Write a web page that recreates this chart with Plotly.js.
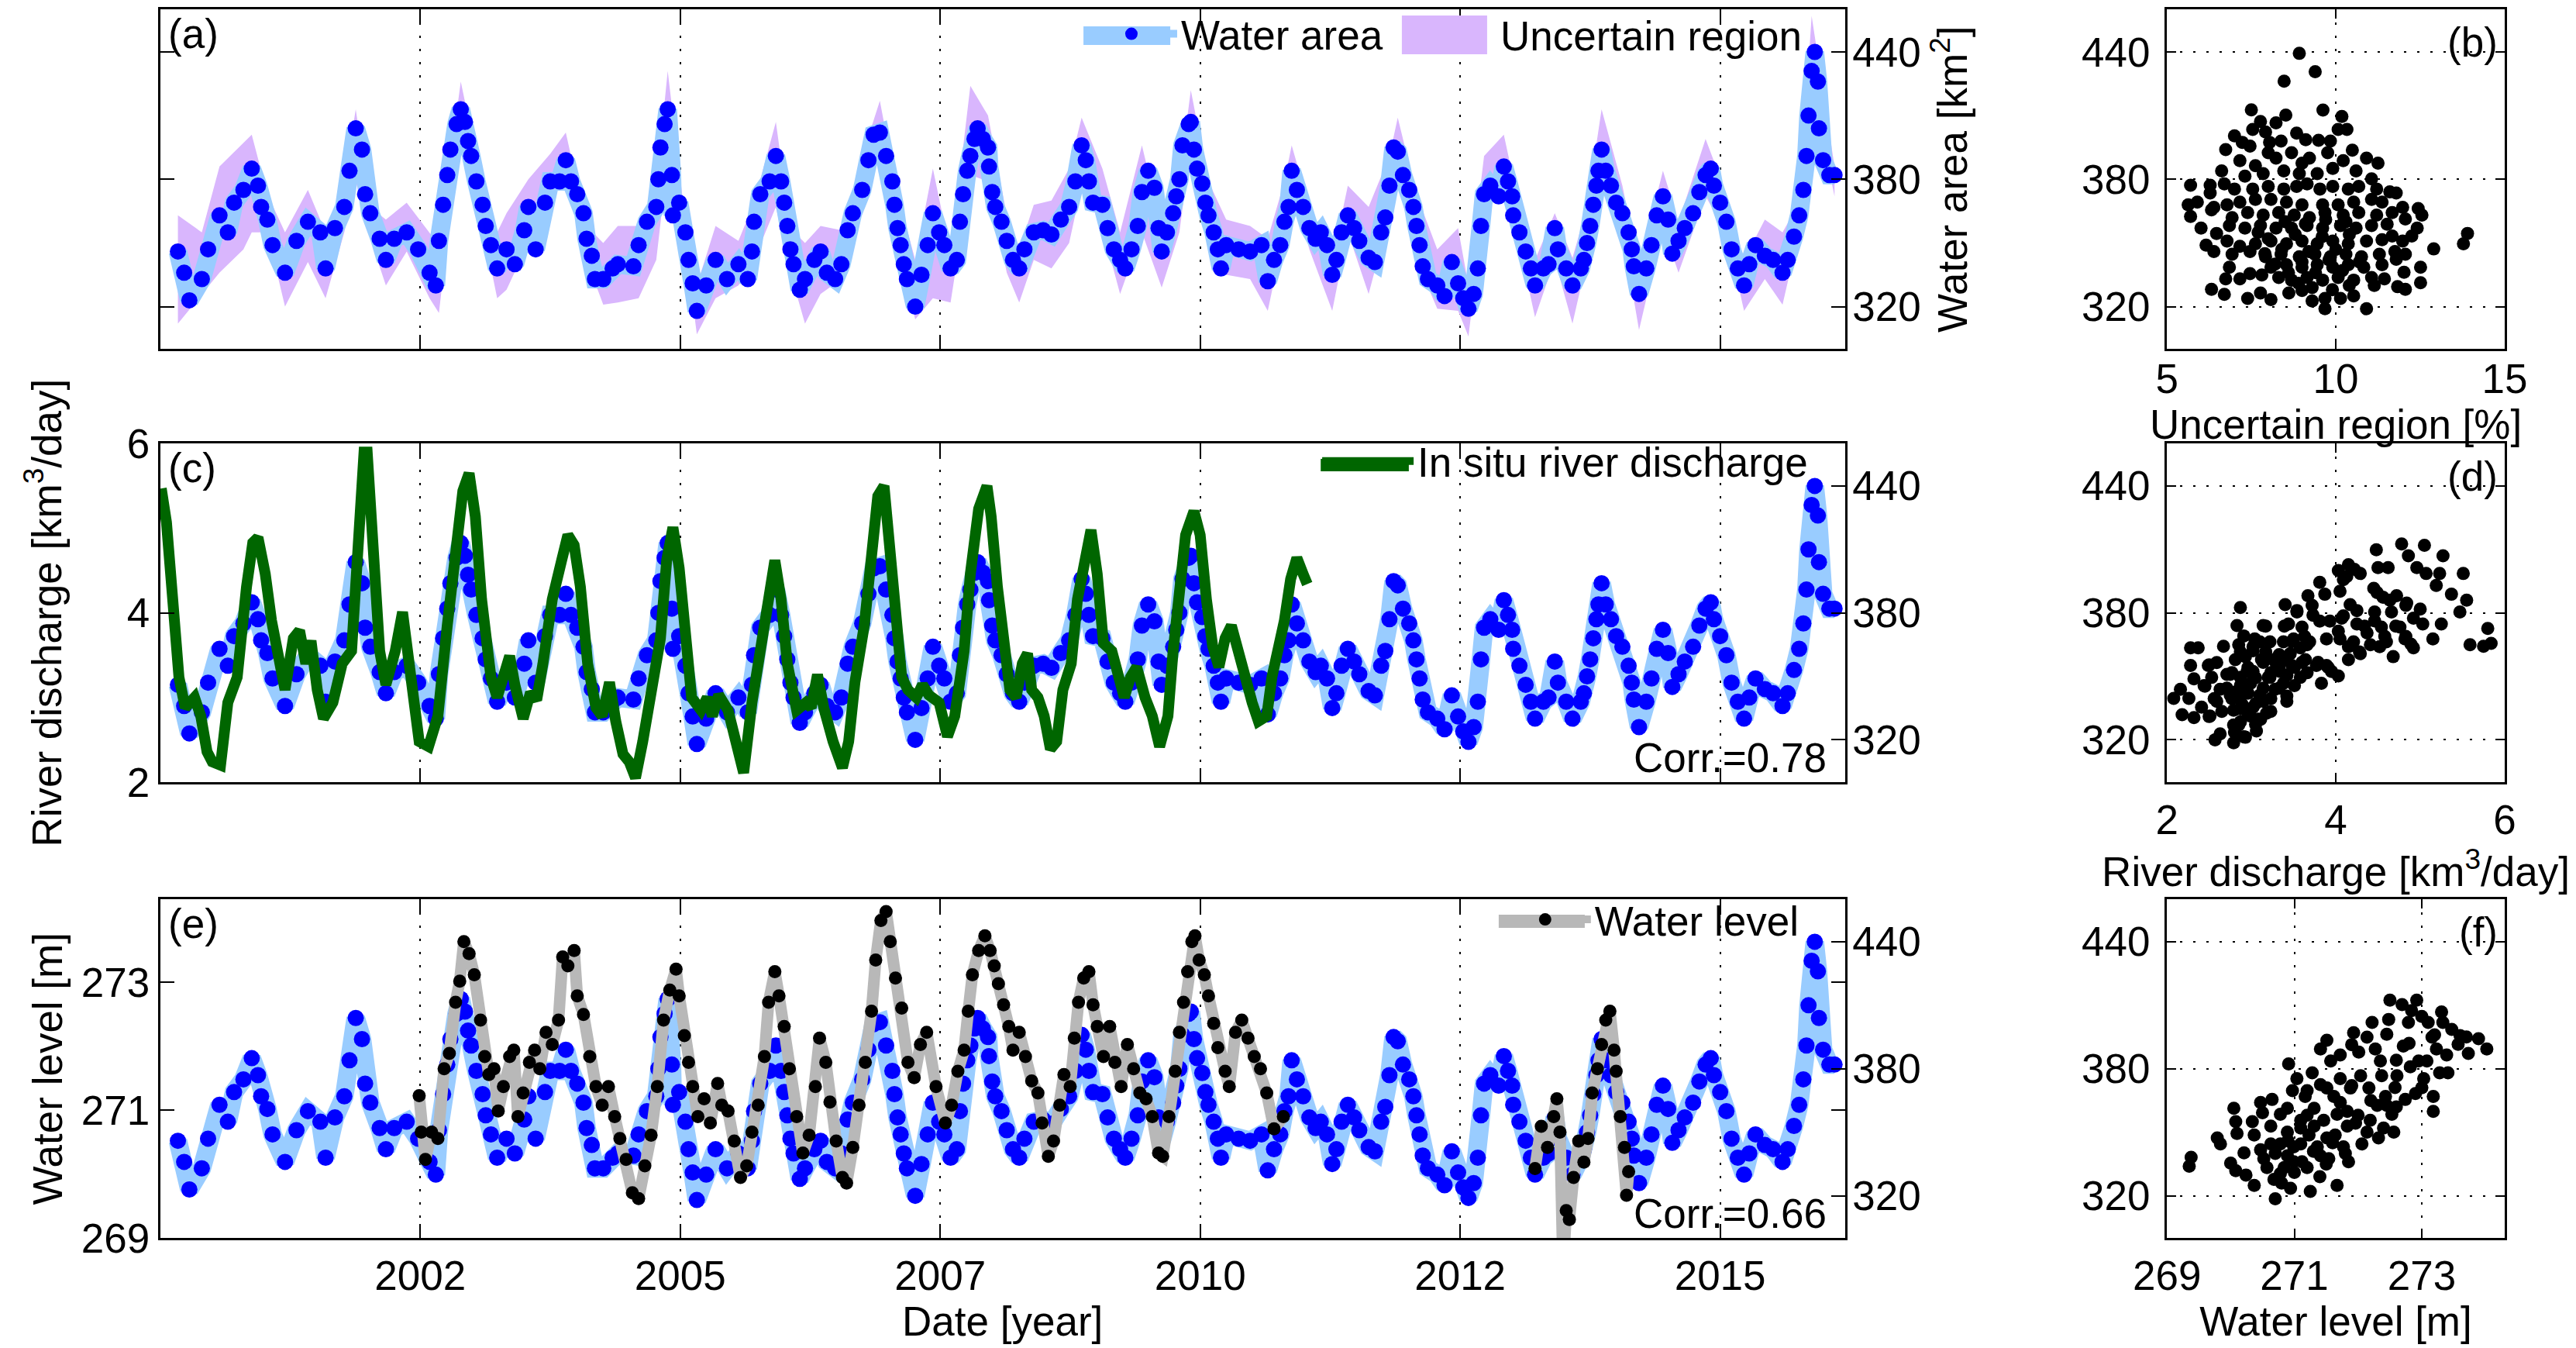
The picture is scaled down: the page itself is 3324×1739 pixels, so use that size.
<!DOCTYPE html>
<html>
<head>
<meta charset="utf-8">
<script src="https://cdn.plot.ly/plotly-3.0.1.min.js"></script>
<style>
  html, body { margin: 0; padding: 0; background: #fff; }
  #chart { width: 3324px; height: 1739px; }
</style>
</head>
<body>
<div id="chart"></div>
<script>
// Data

// water area time series [km2]
const areaYear = [
  2000.17, 2000.23, 2000.28, 2000.40, 2000.46, 2000.57, 2000.65, 2000.71, 2000.80, 2000.88,
  2000.94, 2000.97, 2001.03, 2001.08, 2001.20, 2001.31, 2001.42, 2001.54, 2001.59, 2001.68,
  2001.77, 2001.82, 2001.88, 2001.94, 2001.97, 2002.02, 2002.11, 2002.17, 2002.25, 2002.37,
  2002.48, 2002.59, 2002.65, 2002.68, 2002.72, 2002.76, 2002.79, 2002.85, 2002.89, 2002.93,
  2002.96, 2002.99, 2003.04, 2003.10, 2003.13, 2003.18, 2003.24, 2003.33, 2003.41, 2003.50,
  2003.54, 2003.61, 2003.70, 2003.75, 2003.84, 2003.90, 2003.95, 2004.01, 2004.07, 2004.10,
  2004.15, 2004.18, 2004.26, 2004.35, 2004.40, 2004.55, 2004.60, 2004.68, 2004.77, 2004.79,
  2004.81, 2004.85, 2004.88, 2004.92, 2004.93, 2004.99, 2005.05, 2005.08, 2005.12, 2005.16,
  2005.25, 2005.34, 2005.45, 2005.56, 2005.65, 2005.69, 2005.71, 2005.77, 2005.86, 2005.92,
  2005.97, 2006.00, 2006.03, 2006.06, 2006.09, 2006.15, 2006.20, 2006.29, 2006.35, 2006.41,
  2006.49, 2006.55, 2006.61, 2006.66, 2006.75, 2006.81, 2006.86, 2006.92, 2006.98, 2007.04,
  2007.06, 2007.09, 2007.12, 2007.15, 2007.18, 2007.26, 2007.32, 2007.38, 2007.43, 2007.49,
  2007.54, 2007.60, 2007.66, 2007.69, 2007.72, 2007.76, 2007.79, 2007.83, 2007.86, 2007.91,
  2007.96, 2007.97, 2008.00, 2008.03, 2008.09, 2008.14, 2008.20, 2008.26, 2008.31, 2008.40,
  2008.49, 2008.57, 2008.66, 2008.74, 2008.80, 2008.86, 2008.90, 2008.93, 2008.97, 2009.06,
  2009.11, 2009.17, 2009.23, 2009.28, 2009.34, 2009.40, 2009.44, 2009.50, 2009.56, 2009.60,
  2009.63, 2009.68, 2009.74, 2009.77, 2009.80, 2009.83, 2009.89, 2009.91, 2009.94, 2009.97,
  2010.02, 2010.05, 2010.08, 2010.13, 2010.17, 2010.20, 2010.25, 2010.37, 2010.48, 2010.59,
  2010.65, 2010.71, 2010.77, 2010.81, 2010.85, 2010.88, 2010.93, 2010.99, 2011.05, 2011.11,
  2011.16, 2011.22, 2011.27, 2011.31, 2011.36, 2011.42, 2011.48, 2011.53, 2011.62, 2011.68,
  2011.74, 2011.78, 2011.82, 2011.86, 2011.90, 2011.95, 2012.01, 2012.05, 2012.08, 2012.11,
  2012.14, 2012.19, 2012.28, 2012.35, 2012.42, 2012.48, 2012.53, 2012.58, 2012.63, 2012.67,
  2012.70, 2012.73, 2012.79, 2012.87, 2012.92, 2012.96, 2013.00, 2013.01, 2013.07, 2013.13,
  2013.18, 2013.22, 2013.30, 2013.35, 2013.41, 2013.44, 2013.52, 2013.58, 2013.66, 2013.69,
  2013.72, 2013.75, 2013.78, 2013.81, 2013.83, 2013.86, 2013.90, 2013.95, 2014.00, 2014.06,
  2014.12, 2014.15, 2014.17, 2014.22, 2014.29, 2014.34, 2014.39, 2014.45, 2014.50, 2014.54,
  2014.60, 2014.66, 2014.74, 2014.80, 2014.86, 2014.91, 2014.94, 2015.00, 2015.06, 2015.11,
  2015.17, 2015.23, 2015.28, 2015.34, 2015.43, 2015.51, 2015.60, 2015.65, 2015.71, 2015.76,
  2015.80, 2015.83, 2015.85, 2015.88, 2015.91, 2015.94, 2015.95, 2015.99, 2016.05, 2016.10,
];
const areaKm2 = [
  346, 336, 323, 333, 347, 363, 355, 369, 375, 385,
  377, 367, 361, 349, 336, 351, 360, 355, 338, 357,
  367, 384, 404, 394, 373, 364, 352, 342, 352, 355,
  347, 336, 330, 351, 368, 382, 394, 406, 413, 407,
  398, 391, 379, 368, 358, 349, 338, 347, 340, 356,
  367, 347, 369, 379, 379, 389, 379, 373, 364, 352,
  344, 333, 333, 338, 340, 339, 349, 360, 367, 380,
  395, 406, 413, 382, 363, 369, 355, 342, 331, 318,
  330, 342, 333, 340, 333, 346, 360, 373, 379, 391,
  379, 369, 358, 347, 340, 328, 333, 342, 346, 336,
  333, 340, 356, 364, 375, 389, 401, 402, 391, 379,
  368, 357, 349, 340, 333, 320, 335, 349, 364, 355,
  349, 338, 342, 360, 373, 384, 391, 399, 404, 399,
  395, 386, 374, 367, 360, 351, 342, 338, 347, 355,
  356, 354, 361, 367, 379, 396, 389, 379, 369, 368,
  357, 347, 342, 338, 347, 358, 374, 384, 376, 357,
  346, 355, 364, 372, 380, 396, 406, 407, 394, 385,
  378, 369, 363, 355, 347, 338, 349, 347, 346, 349,
  332, 342, 349, 360, 367, 384, 375, 367, 357, 352,
  355, 349, 335, 342, 355, 363, 357, 351, 343, 341,
  355, 362, 377, 395, 393, 382, 375, 367, 358, 349,
  339, 333, 330, 325, 341, 331, 324, 319, 326, 338,
  358, 373, 377, 372, 386, 379, 372, 363, 355, 346,
  338, 330, 338, 340, 357, 347, 338, 330, 338, 342,
  350, 358, 368, 377, 384, 394, 384, 377, 369, 364,
  355, 347, 339, 326, 338, 349, 363, 372, 361, 345,
  351, 357, 364, 374, 382, 385, 377, 369, 360, 347,
  338, 330, 340, 349, 344, 342, 336, 342, 353, 363,
  375, 391, 410, 431, 440, 426, 404, 389, 382, 382,
];

// uncertain region envelope [km2]
const bandYear = [
  2000.17, 2000.40, 2000.57, 2000.80, 2000.88, 2001.03, 2001.20, 2001.42, 2001.59, 2001.77,
  2001.88, 2002.02, 2002.17, 2002.37, 2002.59, 2002.68, 2002.89, 2003.04, 2003.24, 2003.33,
  2003.54, 2003.75, 2003.90, 2004.10, 2004.26, 2004.40, 2004.60, 2004.77, 2004.88, 2005.05,
  2005.16, 2005.34, 2005.56, 2005.71, 2005.92, 2006.06, 2006.20, 2006.35, 2006.55, 2006.75,
  2006.92, 2007.09, 2007.26, 2007.43, 2007.60, 2007.79, 2007.96, 2008.14, 2008.26, 2008.40,
  2008.57, 2008.74, 2008.86, 2009.06, 2009.23, 2009.44, 2009.63, 2009.80, 2009.91, 2010.08,
  2010.25, 2010.48, 2010.65, 2010.81, 2010.88, 2011.05, 2011.27, 2011.42, 2011.62, 2011.82,
  2011.90, 2012.08, 2012.28, 2012.48, 2012.58, 2012.73, 2012.92, 2013.07, 2013.22, 2013.41,
  2013.58, 2013.72, 2013.86, 2014.06, 2014.22, 2014.45, 2014.60, 2014.86, 2015.06, 2015.23,
  2015.43, 2015.60, 2015.76, 2015.88, 2016.10,
];
const bandUpper = [
  363, 355, 386, 397, 401, 373, 355, 375, 355, 379,
  413, 367, 361, 369, 355, 349, 426, 391, 355, 364,
  380, 392, 402, 358, 350, 358, 358, 377, 431, 360,
  330, 358, 351, 369, 407, 357, 350, 358, 356, 391,
  417, 373, 342, 385, 345, 424, 410, 363, 347, 368,
  370, 385, 409, 385, 355, 396, 357, 380, 422, 379,
  361, 358, 352, 379, 396, 367, 342, 377, 367, 391,
  409, 373, 347, 357, 330, 391, 401, 367, 342, 364,
  343, 367, 413, 377, 339, 384, 360, 399, 373, 342,
  361, 355, 369, 457, 386,
];
const bandLower = [
  312, 326, 336, 347, 355, 355, 320, 341, 324, 355,
  379, 352, 330, 346, 324, 317, 406, 372, 324, 328,
  350, 372, 379, 342, 321, 322, 324, 342, 389, 349,
  307, 324, 330, 342, 367, 336, 312, 326, 333, 369,
  396, 347, 314, 324, 322, 382, 379, 336, 322, 342,
  338, 350, 377, 357, 326, 355, 329, 355, 396, 355,
  335, 333, 318, 355, 377, 347, 318, 355, 326, 363,
  379, 342, 319, 318, 306, 367, 382, 349, 315, 342,
  312, 342, 386, 355, 309, 357, 336, 372, 355, 318,
  333, 321, 355, 424, 372,
];

// in situ river discharge [km3/day]
const qYear = [
  2000.01, 2000.06, 2000.12, 2000.18, 2000.24, 2000.33, 2000.39, 2000.45, 2000.50, 2000.58,
  2000.65, 2000.74, 2000.83, 2000.89, 2000.94, 2001.01, 2001.07, 2001.13, 2001.20, 2001.28,
  2001.34, 2001.40, 2001.45, 2001.51, 2001.57, 2001.66, 2001.75, 2001.84, 2001.90, 2001.96,
  2001.99, 2002.05, 2002.11, 2002.17, 2002.26, 2002.33, 2002.40, 2002.49, 2002.58, 2002.67,
  2002.76, 2002.85, 2002.91, 2002.97, 2003.03, 2003.09, 2003.18, 2003.24, 2003.30, 2003.36,
  2003.41, 2003.49, 2003.56, 2003.62, 2003.68, 2003.77, 2003.86, 2003.92, 2003.98, 2004.04,
  2004.11, 2004.19, 2004.25, 2004.32, 2004.38, 2004.45, 2004.51, 2004.57, 2004.64, 2004.72,
  2004.81, 2004.87, 2004.93, 2004.99, 2005.05, 2005.11, 2005.20, 2005.26, 2005.31, 2005.37,
  2005.46, 2005.52, 2005.61, 2005.69, 2005.76, 2005.85, 2005.91, 2005.97, 2006.03, 2006.12,
  2006.21, 2006.26, 2006.32, 2006.38, 2006.47, 2006.56, 2006.62, 2006.68, 2006.77, 2006.84,
  2006.90, 2006.96, 2007.01, 2007.07, 2007.13, 2007.19, 2007.27, 2007.33, 2007.39, 2007.49,
  2007.57, 2007.64, 2007.73, 2007.79, 2007.87, 2007.95, 2007.99, 2008.05, 2008.11, 2008.17,
  2008.23, 2008.29, 2008.34, 2008.38, 2008.44, 2008.50, 2008.56, 2008.62, 2008.68, 2008.76,
  2008.82, 2008.88, 2008.95, 2009.01, 2009.07, 2009.15, 2009.21, 2009.27, 2009.33, 2009.39,
  2009.47, 2009.54, 2009.61, 2009.69, 2009.74, 2009.80, 2009.86, 2009.94, 2010.00, 2010.06,
  2010.12, 2010.18, 2010.24, 2010.30, 2010.36, 2010.43, 2010.50, 2010.56, 2010.64, 2010.69,
  2010.75, 2010.81, 2010.87, 2010.93, 2010.99, 2011.03,
];
const qValue = [
  5.47, 5.07, 4.16, 3.24, 2.88, 3.00, 2.78, 2.36, 2.24, 2.20,
  2.94, 3.24, 4.31, 4.83, 4.89, 4.46, 3.91, 3.46, 3.09, 3.70,
  3.79, 3.40, 3.67, 3.09, 2.75, 2.94, 3.40, 3.55, 4.77, 5.90,
  5.90, 4.77, 3.55, 3.15, 3.55, 4.01, 3.40, 2.48, 2.42, 2.78,
  3.85, 4.92, 5.44, 5.65, 5.14, 4.16, 3.24, 3.00, 3.24, 3.49,
  3.15, 2.75, 3.06, 2.97, 3.40, 4.16, 4.62, 4.92, 4.80, 4.31,
  3.40, 2.88, 2.78, 3.18, 2.72, 2.33, 2.24, 2.05, 2.48, 3.09,
  3.70, 4.62, 5.01, 4.53, 3.70, 3.00, 2.85, 3.00, 2.78, 3.03,
  2.85, 2.54, 2.11, 2.94, 3.55, 4.16, 4.62, 4.16, 3.40, 2.85,
  2.94, 2.88, 3.27, 2.88, 2.48, 2.17, 2.48, 3.18, 3.85, 4.77,
  5.38, 5.50, 4.92, 4.01, 3.24, 3.09, 3.00, 3.15, 3.03, 2.94,
  2.54, 2.78, 3.55, 4.46, 5.23, 5.50, 5.14, 4.31, 3.55, 3.09,
  3.00, 3.40, 3.52, 3.09, 3.00, 2.78, 2.39, 2.48, 3.09, 3.40,
  4.16, 4.62, 4.98, 4.46, 3.64, 3.55, 3.24, 3.00, 3.24, 3.36,
  3.00, 2.78, 2.42, 2.78, 3.55, 4.31, 4.92, 5.20, 4.92, 4.16,
  3.61, 3.36, 3.70, 3.85, 3.55, 3.18, 2.94, 2.72, 2.78, 3.24,
  3.55, 3.91, 4.40, 4.65, 4.46, 4.34,
];

// water level [m] (null = no data)
const wlYear = [
  2002.49, 2002.51, 2002.55, 2002.61, 2002.67, 2002.73, 2002.78, 2002.84, 2002.88, 2002.92,
  2002.97, 2003.02, 2003.08, 2003.12, 2003.16, 2003.21, 2003.25, 2003.30, 2003.36, 2003.40,
  2003.44, 2003.49, 2003.55, 2003.60, 2003.65, 2003.71, 2003.77, 2003.83, 2003.87, 2003.92,
  2003.98, 2004.01, 2004.07, 2004.13, 2004.19, 2004.25, 2004.31, 2004.37, 2004.42, 2004.48,
  2004.54, 2004.60, 2004.66, 2004.72, 2004.78, 2004.84, 2004.90, 2004.96, 2004.99, 2005.04,
  2005.08, 2005.12, 2005.17, 2005.23, 2005.29, 2005.36, 2005.40, 2005.46, 2005.52, 2005.58,
  2005.64, 2005.69, 2005.75, 2005.81, 2005.85, 2005.91, 2005.95, 2006.00, 2006.05, 2006.12,
  2006.18, 2006.24, 2006.30, 2006.34, 2006.40, 2006.44, 2006.50, 2006.56, 2006.60, 2006.66,
  2006.72, 2006.78, 2006.84, 2006.88, 2006.93, 2006.98, 2007.02, 2007.07, 2007.13, 2007.19,
  2007.25, 2007.31, 2007.37, 2007.46, 2007.55, 2007.61, 2007.67, 2007.73, 2007.77, 2007.81,
  2007.87, 2007.93, 2007.98, 2008.02, 2008.06, 2008.11, 2008.16, 2008.20, 2008.26, 2008.32,
  2008.38, 2008.44, 2008.48, 2008.54, 2008.59, 2008.65, 2008.69, 2008.75, 2008.79, 2008.83,
  2008.88, 2008.93, 2008.97, 2009.01, 2009.07, 2009.13, 2009.18, 2009.24, 2009.30, 2009.36,
  2009.42, 2009.48, 2009.54, 2009.60, 2009.64, 2009.70, 2009.76, 2009.80, 2009.84, 2009.88,
  2009.92, 2009.95, 2009.99, 2010.04, 2010.08, 2010.13, 2010.17, 2010.24, 2010.28, 2010.34,
  2010.40, 2010.46, 2010.52, 2010.58, 2010.64, 2010.71, 2010.80, 2012.00, 2013.22, 2013.28,
  2013.34, 2013.40, 2013.43, 2013.46, 2013.49, 2013.52, 2013.55, 2013.59, 2013.64, 2013.69,
  2013.73, 2013.77, 2013.82, 2013.86, 2013.90, 2013.94, 2013.98, 2014.00, 2014.04, 2014.08,
  2014.10, 2014.12,
];
const wlValue = [
  271.23, 270.66, 270.23, 270.66, 270.56, 271.65, 271.89, 272.69, 273.02, 273.64,
  273.45, 273.12, 272.41, 271.84, 271.56, 271.65, 270.99, 271.37, 271.84, 271.94,
  270.90, 271.27, 271.75, 271.94, 271.65, 272.22, 272.03, 272.41, 273.40, 273.26,
  273.50, 272.79, 272.50, 271.84, 271.37, 271.08, 271.37, 270.90, 270.56, 270.23,
  269.71, 269.62, 270.13, 270.61, 271.37, 272.41, 272.88, 273.21, 272.79, 272.17,
  271.75, 271.37, 270.90, 271.18, 270.80, 271.42, 271.08, 270.99, 270.52, 269.95,
  270.13, 270.66, 271.08, 271.84, 272.69, 273.17, 272.79, 272.31, 271.65, 270.90,
  270.33, 270.61, 271.37, 272.13, 271.75, 271.13, 270.52, 269.95, 269.86, 270.42,
  271.08, 271.75, 272.55, 273.35, 273.97, 274.11, 273.64, 273.07, 272.60, 271.75,
  271.51, 272.03, 272.22, 271.37, 270.80, 271.08, 271.61, 271.94, 272.55, 273.12,
  273.50, 273.73, 273.50, 273.26, 272.98, 272.65, 272.31, 271.94, 272.22, 271.84,
  271.46, 271.27, 270.80, 270.28, 270.52, 271.08, 271.56, 271.37, 272.13, 272.69,
  273.07, 273.17, 272.65, 272.31, 271.84, 272.31, 271.75, 271.37, 272.03, 271.65,
  271.27, 271.18, 270.90, 270.33, 270.28, 270.90, 271.61, 272.22, 272.69, 273.17,
  273.64, 273.73, 273.35, 273.12, 272.79, 272.36, 271.98, 271.61, 271.37, 272.22,
  272.41, 272.13, 271.84, 271.65, 271.27, 270.71, 270.90, null, 270.09, 270.75,
  270.42, 270.90, 271.18, 270.66, 268.50, 269.43, 269.29, 269.95, 270.52, 270.19,
  270.56, 271.27, 271.65, 272.03, 272.41, 272.55, 271.94, 271.61, 270.90, 270.42,
  269.67, 270.04,
];

// scatter (b): uncertain region [%] vs water area
const bUncert = [
  8.92, 9.39, 8.47, 9.62, 10.18, 7.50, 8.52, 7.77, 8.23, 7.54, 7.92, 8.38, 8.84, 7.00, 7.23,
  9.11, 9.49, 9.84, 10.07, 10.33, 6.74, 7.46, 8.04, 10.49, 10.22, 10.91, 11.25, 10.60, 11.06,
  6.62, 7.16, 7.62, 8.00, 8.23, 8.69, 9.00, 9.22, 9.45, 9.76, 9.91, 8.92, 8.46, 7.85, 7.31,
  5.70, 6.28, 6.28, 6.70, 7.00, 7.54, 8.00, 8.46, 8.84, 9.15, 9.53, 9.91, 10.37, 10.68, 11.21, 11.60, 11.79,
  5.63, 5.90, 6.39, 6.78, 7.16, 7.62, 8.08, 8.54, 9.00, 9.61, 10.07, 10.53, 11.06, 11.37,
  5.70, 6.32, 6.93, 7.39, 7.85, 8.31, 8.77, 9.22, 9.68, 10.22, 10.68, 11.21, 11.67, 11.98, 12.44, 12.55,
  6.01, 6.47, 6.85, 7.31, 7.77, 8.23, 8.69, 9.15, 9.61, 10.14, 10.60, 11.06, 11.52, 12.06, 12.41,
  6.16, 6.39, 6.78, 7.16, 7.62, 8.08, 8.54, 9.00, 9.45, 9.91, 10.37, 10.91, 11.37, 11.67, 11.98, 12.25, 12.90, 13.78, 13.90,
  6.93, 7.46, 7.92, 8.38, 8.92, 9.38, 9.84, 10.30, 10.76, 11.29, 11.75, 12.06,
  6.85, 8.08, 8.54, 9.00, 9.45, 9.91, 10.37, 10.83, 11.37, 11.79, 12.51,
  6.74, 7.16, 7.46, 7.81, 8.31, 8.69, 9.15, 9.61, 10.07, 10.53, 11.06, 11.44, 12.02, 12.51,
  6.32, 6.70, 7.39, 7.77, 8.08, 8.61, 9.00, 9.30, 9.68, 10.14, 10.53, 10.91, 9.68, 11.14, 11.83, 12.06,
  8.0, 8.4, 8.8, 9.2, 9.6, 10.0, 10.4, 8.2, 8.6, 9.0, 9.4, 9.8, 10.2, 8.5, 9.1, 9.7, 10.3, 7.7, 7.9, 10.7, 9.3, 9.9, 10.4, 8.9,
];
const bArea = [
  439.3, 430.7, 426.2, 412.6, 409.6, 412.7, 410.2, 407.2, 406.6, 403.5, 402.3, 398.0, 401.7, 400.5, 397.4,
  398.6, 398.4, 398.0, 403.5, 403.5, 394.0, 395.6, 397.4, 393.7, 388.8, 390.0, 387.6, 383.9, 380.2,
  383.9, 388.8, 386.4, 392.5, 390.0, 392.5, 387.6, 390.0, 382.7, 392.5, 385.1, 382.7, 383.9, 382.7, 381.5,
  377.2, 377.2, 373.5, 377.8, 375.4, 375.4, 376.6, 375.4, 376.6, 377.8, 375.4, 376.6, 375.4, 376.6, 375.4, 374.1, 373.5,
  368.0, 369.2, 366.8, 368.0, 369.2, 370.5, 370.5, 369.2, 368.0, 368.0, 368.0, 369.2, 370.5, 369.2,
  362.5, 365.6, 361.9, 364.3, 363.1, 364.3, 363.1, 361.9, 364.3, 363.1, 364.3, 363.1, 364.3, 366.8, 366.2, 363.1,
  357.0, 354.5, 358.2, 357.0, 358.2, 357.0, 357.0, 358.2, 357.0, 358.2, 357.0, 358.2, 358.8, 361.3, 357.0,
  349.0, 346.0, 350.9, 348.4, 349.6, 350.9, 349.6, 350.9, 349.6, 350.9, 349.6, 350.9, 351.5, 353.3, 350.9, 353.3, 347.2, 349.6, 354.5,
  344.7, 346.0, 343.5, 344.7, 343.5, 344.7, 343.5, 344.7, 343.5, 344.7, 346.0, 344.7,
  338.6, 338.6, 339.8, 338.6, 339.8, 338.6, 339.8, 338.6, 339.8, 342.3, 338.6,
  333.1, 333.1, 335.6, 334.9, 333.7, 332.5, 333.7, 332.5, 333.7, 332.5, 333.7, 333.1, 336.2, 331.3,
  328.2, 325.8, 323.9, 326.4, 323.3, 326.4, 327.6, 322.7, 323.9, 323.9, 325.1, 319.0, 319.0, 330.0, 329.4, 328.2,
  352, 347, 354, 346, 353, 347, 354, 340, 336, 341, 336, 342, 337, 360, 359, 361, 360, 355, 345, 341, 329, 328, 330, 331,
];

// scatter (d): river discharge vs water area
const dDischarge = [
  2.08, 2.16, 2.18, 2.26, 2.28, 2.37, 2.28, 2.32, 2.32, 2.41, 2.45, 2.49, 2.51, 2.53,
  2.59, 2.59, 2.57, 2.63, 2.67, 2.71, 2.63, 2.75, 2.79, 2.81, 2.83, 2.87, 2.85, 2.87,
  2.79, 2.85, 2.91, 2.91, 2.93, 2.95, 2.99, 3.02, 3.04, 3.06, 3.10, 3.12, 3.14, 3.18,
  3.20, 3.22, 3.26, 3.28, 3.34, 3.38, 3.40, 3.42, 3.44, 3.48, 3.50, 3.54, 3.58, 3.60,
  3.64, 3.67, 3.69, 3.73, 3.77, 3.81, 3.81, 3.83, 3.87, 3.89, 3.93, 3.95, 4.03, 4.03,
  4.05, 4.05, 4.07, 4.13, 4.15, 4.15, 4.17, 4.21, 4.25, 4.29, 4.29, 4.37, 4.41, 4.45,
  4.48, 4.46, 4.50, 4.54, 4.56, 4.60, 4.62, 4.66, 4.68, 4.72, 4.76, 4.78, 4.82, 4.84,
  4.86, 4.92, 4.92, 4.96, 5.00, 5.03, 5.05, 5.07, 5.15, 5.19, 5.25, 5.27, 5.23, 5.37,
  5.47, 5.51, 5.55, 5.59, 5.75, 5.80, 5.84,
  2.87, 2.89, 2.99, 3.02, 3.08, 3.14, 3.22, 3.30, 3.38, 3.46, 3.02, 3.10, 2.95, 2.81,
  2.79, 2.75, 3.42, 3.58, 3.66, 3.89,
  2.77, 2.87, 2.96, 3.05, 3.14, 3.23, 3.33, 3.42, 3.51, 3.60, 2.77, 2.87, 2.96, 3.05,
  3.14, 3.23, 3.33, 3.42, 3.51, 2.87, 2.96, 3.05, 2.80, 2.93, 3.11, 3.23, 2.87, 3.02,
  3.17, 3.33, 3.66, 3.79, 3.91, 2.71, 2.56, 2.50, 2.44, 2.65, 2.50, 3.48, 3.63, 3.39,
  3.17, 3.54, 3.72, 4.09, 4.25, 4.34, 4.46, 4.58, 4.71, 4.83, 4.89, 4.64, 4.83, 4.49,
  4.09, 4.22, 4.03, 4.15, 4.28, 4.52,
];
const dArea = [
  339.6, 343.9, 331.9, 339.6, 363.5, 363.5, 355.1, 348.8, 330.5, 335.4, 345.3, 355.1, 331.2, 349.5,
  338.2, 356.5, 320.0, 322.8, 364.2, 350.9, 343.9, 341.1, 318.6, 357.9, 374.0, 382.5, 364.9, 349.5,
  334.0, 327.0, 369.1, 321.4, 359.3, 342.5, 331.2, 352.3, 367.7, 324.2, 341.1, 357.9, 374.0, 332.6,
  349.5, 366.3, 357.9, 343.9, 352.3, 366.3, 383.9, 338.2, 374.7, 355.1, 367.7, 380.4, 349.5, 373.3,
  357.9, 388.1, 366.3, 378.9, 355.1, 394.4, 376.1, 346.7, 388.8, 367.7, 376.1, 352.3, 350.2, 400.0,
  390.2, 367.7, 377.5, 397.2, 402.8, 357.9, 383.9, 366.3, 374.7, 398.6, 360.7, 370.5, 364.9, 391.6,
  409.8, 380.4, 401.4, 373.3, 387.4, 366.3, 401.4, 380.4, 359.3, 388.1, 373.3, 412.6, 367.7, 384.6,
  407.0, 377.5, 363.5, 401.4, 381.8, 374.7, 411.9, 398.6, 367.7, 393.0, 374.7, 407.0, 398.6, 388.8,
  380.4, 398.6, 386.0, 364.9, 364.2, 372.6, 365.6,
  341.1, 336.8, 346.7, 335.4, 329.8, 338.2, 349.5, 355.1, 346.7, 360.7, 362.1, 366.3, 352.3, 342.5,
  327.0, 350.9, 357.9, 363.5, 364.9, 355.1,
  351.7, 345.6, 354.2, 349.3, 356.6, 351.7, 355.4, 350.5, 354.2, 356.6, 339.5, 334.6, 342.0, 337.1,
  344.4, 339.5, 344.4, 340.7, 345.6, 328.5, 332.2, 327.3, 323.6, 321.2, 329.7, 333.4, 361.5, 364.0,
  361.5, 360.3, 351.7, 356.6, 354.2, 344.4, 339.5, 355.4, 345.6, 333.4, 331.0, 366.4, 368.9, 373.7,
  373.7, 381.1, 383.5, 378.6, 381.1, 373.7, 376.2, 368.9, 373.7, 368.9, 365.2, 386.0, 383.5, 389.6,
  395.7, 400.6, 371.3, 364.0, 361.5, 364.0,
];

// scatter (f): water level vs water area
const fLevel = [
  269.35, 269.38, 269.79, 269.84, 270.05, 270.08, 270.10, 270.00, 270.08, 270.24, 270.37, 270.21,
  270.34, 270.37, 270.47, 270.50, 270.52, 270.63, 270.65, 270.68, 270.70, 270.78, 270.84, 270.89,
  270.91, 270.94, 270.97, 270.99, 271.04, 271.10, 271.12, 271.17, 271.23, 271.25, 271.28, 271.31,
  271.36, 271.41, 271.41, 271.46, 271.51, 271.54, 271.57, 271.62, 271.64, 271.67, 271.72, 271.72,
  271.77, 271.83, 271.85, 271.88, 271.90, 271.93, 271.96, 272.01, 272.04, 272.06, 272.14, 272.17,
  272.19, 272.22, 272.27, 272.30, 272.32, 272.35, 272.37, 272.43, 272.45, 272.48, 272.50, 272.53,
  272.56, 272.58, 272.61, 272.69, 272.71, 272.74, 272.79, 272.82, 272.84, 272.90, 272.92, 272.95,
  273.00, 273.03, 273.08, 273.10, 273.16, 273.18, 273.18, 273.23, 273.28, 273.31, 273.33, 273.39,
  273.41, 273.47, 273.57, 273.60, 273.70, 273.73, 273.89, 274.02,
  270.78, 270.89, 270.99, 271.10, 271.20, 271.31, 271.41, 271.51, 271.67, 270.63, 270.57, 270.89,
  271.20, 271.83, 272.14, 270.47, 270.78, 271.51, 271.72, 272.45,
  270.7, 270.9, 271.1, 271.3, 271.5, 271.0, 271.2, 271.6, 271.8, 270.8, 271.4, 272.0,
  272.2, 272.4, 271.9, 272.6, 272.8, 273.0, 273.2, 272.6,
];
const fArea = [
  334.0, 338.2, 347.3, 344.5, 361.3, 355.0, 349.4, 335.4, 331.9, 329.8, 324.9, 340.3,
  355.0, 348.7, 364.1, 359.2, 337.5, 352.9, 365.5, 327.7, 318.6, 344.5, 333.3, 361.3,
  382.3, 323.5, 369.7, 343.1, 375.3, 355.7, 336.1, 366.9, 348.7, 322.1, 378.1, 361.3,
  343.1, 372.5, 389.3, 355.7, 393.5, 337.5, 383.7, 366.9, 348.7, 324.9, 386.5, 375.3,
  343.1, 359.9, 336.1, 370.9, 391.4, 397.0, 354.3, 387.9, 376.7, 344.5, 394.9, 370.9,
  355.7, 401.9, 389.3, 362.7, 347.3, 383.7, 376.7, 366.9, 396.3, 403.3, 412.4, 358.5,
  350.1, 371.1, 376.7, 410.3, 390.7, 365.5, 401.9, 380.9, 407.5, 368.3, 412.4, 383.7,
  404.7, 375.3, 383.7, 401.9, 394.9, 366.9, 359.9, 389.3, 378.1, 406.8, 401.9, 386.5,
  378.1, 398.6, 391.5, 395.7, 395.0, 387.2, 394.2, 389.3,
  358.5, 350.1, 336.1, 344.5, 333.3, 352.9, 338.9, 347.3, 358.5, 344.5, 333.3, 338.9,
  369.7, 352.9, 350.1, 341.7, 330.5, 370.9, 364.1, 362.7,
  340, 346, 352, 341, 335, 331, 358, 345, 340, 326, 329, 358,
  365, 352, 372, 384, 392, 371, 396, 362,
];

// axis ticks
const yearTickVals = [2002.5, 2005, 2007.5, 2010, 2012.5, 2015];
const yearTickText = ["2002", "2005", "2007", "2010", "2012", "2015"];
const areaTicks = [320, 380, 440];

// Styling

const FONT = "Liberation Sans, Arial, Helvetica, sans-serif";
const FS = 53;
const BLUE = "rgb(0,0,255)";
const LIGHT_BLUE = "rgb(153,204,255)";
const PURPLE = "rgb(217,182,253)";
const GREEN = "rgb(0,102,0)";
const GREY = "rgb(184,184,184)";

const TS_DOMAIN = [0.0622, 0.7162];
const SC_DOMAIN = [0.8412, 0.9723];
const ROW_A = [0.741, 0.993];
const ROW_C = [0.4198, 0.6709];
const ROW_E = [0.0815, 0.3328];

const axisBase = {
  showline: true,
  linecolor: "black",
  linewidth: 3,
  ticks: "inside",
  ticklen: 18,
  tickwidth: 2,
  tickcolor: "black",
  zeroline: false,
  showgrid: false,
  tickfont: { family: FONT, size: FS, color: "black" },
};

const dotGrid = {
  showgrid: true,
  gridcolor: "black",
  gridwidth: 2,
  griddash: "3px,14px",
};

const timeX = function (anchor, showLabels) {
  return {
    ...axisBase,
    ...dotGrid,
    domain: TS_DOMAIN,
    anchor: anchor,
    range: [2000, 2016.2],
    tickmode: "array",
    tickvals: yearTickVals,
    ticktext: yearTickText,
    showticklabels: showLabels,
    mirror: "ticks",
    ticklabelstandoff: 0,
  };
};

const areaY = function (domain, anchor, mirror) {
  return {
    ...axisBase,
    domain: domain,
    anchor: anchor,
    side: "right",
    range: [300, 460],
    tickmode: "array",
    tickvals: areaTicks,
    mirror: mirror,
    ticklabelstandoff: -4,
  };
};

const scatterAxis = function (domain, anchor, range, ticks, standoff) {
  return {
    ...axisBase,
    ...dotGrid,
    domain: domain,
    anchor: anchor,
    range: range,
    tickmode: "array",
    tickvals: ticks,
    mirror: "ticks",
    ticklen: 12,
    ticklabelstandoff: standoff,
  };
};

const titleFont = { family: FONT, size: FS, color: "black" };

// Traces

const areaTrace = function (xa, ya, legend) {
  return {
    x: areaYear,
    y: areaKm2,
    xaxis: xa,
    yaxis: ya,
    type: "scatter",
    mode: "lines+markers",
    name: "Water area",
    line: { color: LIGHT_BLUE, width: 24 },
    marker: { color: BLUE, size: 21, line: { width: 0 } },
    showlegend: legend,
  };
};

const scatterTrace = function (x, y, xa, ya) {
  return {
    x: x,
    y: y,
    xaxis: xa,
    yaxis: ya,
    type: "scatter",
    mode: "markers",
    marker: { color: "black", size: 17, line: { width: 0 } },
    showlegend: false,
  };
};

const data = [
  // (a)
  {
    x: bandYear, y: bandLower, xaxis: "x", yaxis: "y",
    type: "scatter", mode: "lines", line: { width: 0, color: PURPLE },
    showlegend: false, hoverinfo: "skip",
  },
  {
    x: bandYear, y: bandUpper, xaxis: "x", yaxis: "y",
    type: "scatter", mode: "lines", fill: "tonexty", fillcolor: PURPLE,
    line: { width: 0, color: PURPLE },
    name: "Uncertain region", showlegend: false,
  },
  areaTrace("x", "y", true),

  // (c)
  areaTrace("x2", "y2", false),
  {
    x: qYear, y: qValue, xaxis: "x2", yaxis: "y3",
    type: "scatter", mode: "lines",
    line: { color: GREEN, width: 14 },
    name: "In situ river discharge", legend: "legend2",
  },

  // (e)
  areaTrace("x3", "y4", false),
  {
    x: wlYear, y: wlValue, xaxis: "x3", yaxis: "y5",
    type: "scatter", mode: "lines+markers",
    line: { color: GREY, width: 15 },
    marker: { color: "black", size: 17, line: { width: 0 } },
    name: "Water level", legend: "legend3",
  },

  // (b), (d), (f)
  scatterTrace(bUncert, bArea, "x4", "y6"),
  scatterTrace(dDischarge, dArea, "x5", "y7"),
  scatterTrace(fLevel, fArea, "x6", "y8"),
];

const panelLabel = function (text, xa, ya, right) {
  return {
    text: text,
    xref: xa + " domain",
    yref: ya + " domain",
    x: right ? 0.985 : 0.004,
    y: right ? 0.975 : 1.0,
    xanchor: right ? "right" : "left",
    yanchor: "top",
    showarrow: false,
    font: { family: FONT, size: FS, color: "black" },
  };
};

const corrLabel = function (text, xa, ya) {
  return {
    text: text,
    xref: xa + " domain",
    yref: ya + " domain",
    x: 0.99,
    y: 0.0,
    xanchor: "right",
    yanchor: "bottom",
    showarrow: false,
    font: { family: FONT, size: FS, color: "black" },
  };
};

// thick legend swatch drawn under a plotly legend symbol (paper coords)
const swatch = function (x0, x1, y0, y1, color) {
  return {
    type: "rect", xref: "paper", yref: "paper",
    x0: x0, x1: x1, y0: y0, y1: y1,
    fillcolor: color, line: { width: 0 },
  };
};

const legendBase = {
  orientation: "h",
  xanchor: "right",
  yanchor: "top",
  bgcolor: "rgba(0,0,0,0)",
  borderwidth: 0,
  itemwidth: 118,
  traceorder: "normal",
  font: { family: FONT, size: FS, color: "black" },
};

const layout = {
  width: 3324,
  height: 1739,
  margin: { l: 0, r: 0, t: 0, b: 0 },
  paper_bgcolor: "white",
  plot_bgcolor: "white",
  font: { family: FONT, size: FS, color: "black" },
  showlegend: true,

  xaxis: timeX("y", false),
  yaxis: {
    ...areaY(ROW_A, "x", "ticks"),
    title: { text: "Water area [km<sup>2</sup>]", font: titleFont, standoff: 24 },
  },

  xaxis2: timeX("y2", false),
  yaxis2: areaY(ROW_C, "x2", false),
  yaxis3: {
    ...axisBase,
    overlaying: "y2",
    anchor: "x2",
    side: "left",
    range: [2, 6],
    tickmode: "array",
    tickvals: [2, 4, 6],
    mirror: "ticks",
    ticklabelstandoff: 0,
    title: { text: "River discharge [km<sup>3</sup>/day]", font: titleFont, standoff: 68 },
  },

  xaxis3: {
    ...timeX("y4", true),
    title: { text: "Date [year]", font: titleFont, standoff: 0 },
  },
  yaxis4: areaY(ROW_E, "x3", false),
  yaxis5: {
    ...axisBase,
    overlaying: "y4",
    anchor: "x3",
    side: "left",
    range: [269, 274.3],
    tickmode: "array",
    tickvals: [269, 271, 273],
    mirror: "ticks",
    ticklabelstandoff: 0,
    title: { text: "Water level [m]", font: titleFont, standoff: 8 },
  },

  xaxis4: scatterAxis(SC_DOMAIN, "y6", [5, 15], [5, 10, 15], -10),
  yaxis6: scatterAxis(ROW_A, "x4", [300, 460], areaTicks, 8),

  xaxis5: {
    ...scatterAxis(SC_DOMAIN, "y7", [2, 6], [2, 4, 6], 0),
    title: { text: "River discharge [km<sup>3</sup>/day]", font: titleFont, standoff: 4 },
  },
  yaxis7: scatterAxis(ROW_C, "x5", [300, 460], areaTicks, 8),

  xaxis6: {
    ...scatterAxis(SC_DOMAIN, "y8", [269, 274.3], [269, 271, 273], 0),
    title: { text: "Water level [m]", font: titleFont, standoff: 0 },
  },
  yaxis8: scatterAxis(ROW_E, "x6", [300, 460], areaTicks, 8),

  legend: { ...legendBase, x: 0.5385, y: 0.9985 },
  legend2: { ...legendBase, x: 0.7034, y: 0.6815 },
  legend3: { ...legendBase, x: 0.700, y: 0.3415 },

  shapes: [
    swatch(0.4206, 0.4543, 0.9666, 0.9804, LIGHT_BLUE),
    swatch(0.5442, 0.5773, 0.9597, 0.9885, PURPLE),
    swatch(0.5127, 0.5469, 0.6504, 0.6596, GREEN),
    swatch(0.5818, 0.6152, 0.3117, 0.3214, GREY),
  ],

  annotations: [
    {
      text: "Uncertain region",
      xref: "paper", yref: "paper",
      x: 0.5818, y: 0.9735,
      xanchor: "left", yanchor: "middle",
      showarrow: false,
      font: { family: FONT, size: FS, color: "black" },
    },
    {
      text: "Uncertain region [%]",
      xref: "x4 domain", yref: "paper",
      x: 0.5, y: 0.7030,
      xanchor: "center", yanchor: "top",
      showarrow: false,
      font: { family: FONT, size: FS, color: "black" },
    },
    panelLabel("(a)", "x", "y", false),
    panelLabel("(b)", "x4", "y6", true),
    panelLabel("(c)", "x2", "y2", false),
    panelLabel("(d)", "x5", "y7", true),
    panelLabel("(e)", "x3", "y4", false),
    panelLabel("(f)", "x6", "y8", true),
    corrLabel("Corr.=0.78", "x2", "y2"),
    corrLabel("Corr.=0.66", "x3", "y4"),
  ],
};

Plotly.newPlot("chart", data, layout, {
  displayModeBar: false,
  staticPlot: true,
});
</script>
</body>
</html>
